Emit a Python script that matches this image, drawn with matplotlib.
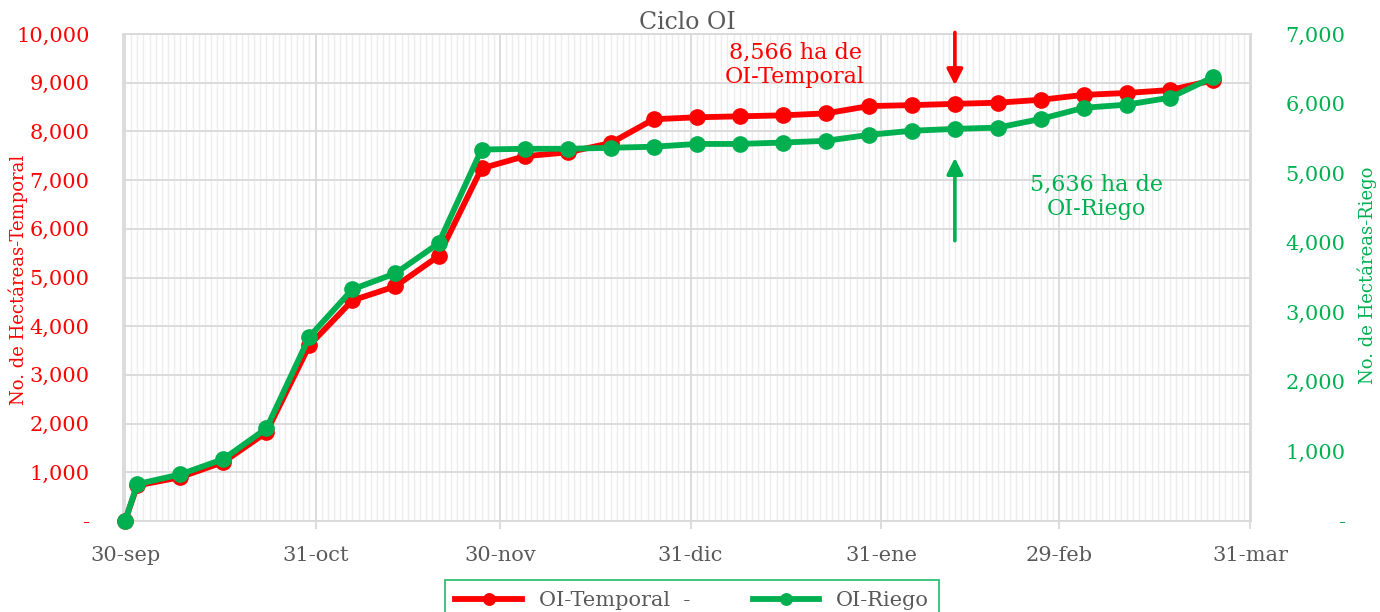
import datetime as dt
import matplotlib
matplotlib.use("Agg")
import matplotlib.pyplot as plt
import matplotlib.dates as mdates
from matplotlib.ticker import FuncFormatter, MultipleLocator

fechas = ["2023-09-30", "2023-10-02", "2023-10-09", "2023-10-16", "2023-10-23",
          "2023-10-30", "2023-11-06", "2023-11-13", "2023-11-20", "2023-11-27",
          "2023-12-04", "2023-12-11", "2023-12-18", "2023-12-25", "2024-01-01",
          "2024-01-08", "2024-01-15", "2024-01-22", "2024-01-29", "2024-02-05",
          "2024-02-12", "2024-02-19", "2024-02-26", "2024-03-04", "2024-03-11",
          "2024-03-18", "2024-03-25"]
temporal = [0, 730, 900, 1210, 1820, 3610, 4530, 4820, 5440, 7240,
            7490, 7570, 7760, 8250, 8290, 8310, 8330, 8370, 8520, 8540,
            8566, 8590, 8650, 8750, 8790, 8850, 9050]
riego = [0, 530, 670, 890, 1330, 2650, 3330, 3560, 3990, 5340,
         5350, 5350, 5365, 5380, 5420, 5420, 5440, 5465, 5550, 5610,
         5636, 5655, 5780, 5940, 5985, 6085, 6380]
tick_fechas = ["2023-09-30", "2023-10-31", "2023-11-30", "2023-12-31",
               "2024-01-31", "2024-02-29", "2024-03-31"]
tick_labels = ["30-sep", "31-oct", "30-nov", "31-dic", "31-ene", "29-feb", "31-mar"]

x = [dt.datetime.strptime(f, "%Y-%m-%d") for f in fechas]
xt = [dt.datetime.strptime(f, "%Y-%m-%d") for f in tick_fechas]

ROJO = "#FF0000"
VERDE = "#00B050"
GRIS = "#595959"
plt.rcParams["font.family"] = ["DejaVu Serif"]

def fmt(v, pos):
    return "-" if v == 0 else "{:,.0f}".format(v)

fig = plt.figure(figsize=(13.8, 6.12), dpi=100)
ax = fig.add_axes([0.0891, 0.1487, 0.8174, 0.7957])
ax2 = ax.twinx()

ax.set_xlim(xt[0] - dt.timedelta(hours=8), xt[-1] + dt.timedelta(hours=4))
ax.set_ylim(0, 10000)
ax2.set_ylim(0, 7000)

# grid
ax.xaxis.set_minor_locator(mdates.DayLocator())
ax.set_xticks(xt)
ax.set_xticklabels(tick_labels)
ax.grid(which="minor", axis="x", color="#EDEDED", lw=1.0)
ax.grid(which="major", axis="x", color="#D9D9D9", lw=1.3)
ax.yaxis.set_major_locator(MultipleLocator(1000))
ax.grid(which="major", axis="y", color="#D9D9D9", lw=1.3)
ax.set_axisbelow(True)

ax.plot(x, temporal, color=ROJO, lw=4.2, marker="o", ms=11, clip_on=False,
        label="OI-Temporal  -", zorder=3)
ax2.plot(x, riego, color=VERDE, lw=4.2, marker="o", ms=11, clip_on=False,
         label="OI-Riego", zorder=3)

for s in ax.spines.values():
    s.set_color("#D9D9D9")
    s.set_linewidth(1.3)
for s in ax2.spines.values():
    s.set_visible(False)

ax.yaxis.set_major_formatter(FuncFormatter(fmt))
ax2.yaxis.set_major_locator(MultipleLocator(1000))
ax2.yaxis.set_major_formatter(FuncFormatter(fmt))
ax.tick_params(axis="y", length=0, labelsize=15, labelcolor=ROJO, pad=24)
ax2.tick_params(axis="y", length=0, labelsize=15, labelcolor=VERDE, pad=68)
ax.tick_params(axis="x", which="major", length=6, color="#D9D9D9", width=1.3,
               labelsize=15, labelcolor=GRIS, pad=12)
ax.tick_params(axis="x", which="minor", length=0)
for lbl in ax2.get_yticklabels():
    lbl.set_horizontalalignment("right")

ax.set_ylabel("No. de Hectáreas-Temporal", color=ROJO, fontsize=13)
ax.yaxis.set_label_coords(-0.084, 0.495)
ax2.set_ylabel("No. de Hectáreas-Riego", color=VERDE, fontsize=13)
ax2.yaxis.set_label_coords(1.094, 0.505)
ax.set_title("Ciclo OI", color=GRIS, fontsize=17, pad=-1)

# annotations
xa = x[20]
ax.annotate("", xy=(xa, 8890), xytext=(xa, 10090),
            arrowprops=dict(arrowstyle="-|>", color=ROJO, lw=2.6,
                            mutation_scale=24), annotation_clip=False)
ax.text(dt.datetime(2024, 1, 17), 9360, "8,566 ha de\nOI-Temporal",
        color=ROJO, fontsize=16, ha="center", va="center", linespacing=1.15)
ax.annotate("", xy=(xa, 7515), xytext=(xa, 5700),
            arrowprops=dict(arrowstyle="-|>", color=VERDE, lw=2.6,
                            mutation_scale=24))
ax.text(dt.datetime(2024, 3, 6), 6650, "5,636 ha de\nOI-Riego",
        color=VERDE, fontsize=16, ha="center", va="center", linespacing=1.15)

leg = fig.legend(loc="upper center", bbox_to_anchor=(0.5015, 0.0686), ncol=2,
                 frameon=True, fancybox=False, fontsize=15, borderpad=0.5,
                 handlelength=3.2, columnspacing=3.0, markerscale=0.75)
leg.get_frame().set_edgecolor(VERDE)
leg.get_frame().set_linewidth(1.3)
for t in leg.get_texts():
    t.set_color(GRIS)

fig.savefig("out.png", dpi=100)
